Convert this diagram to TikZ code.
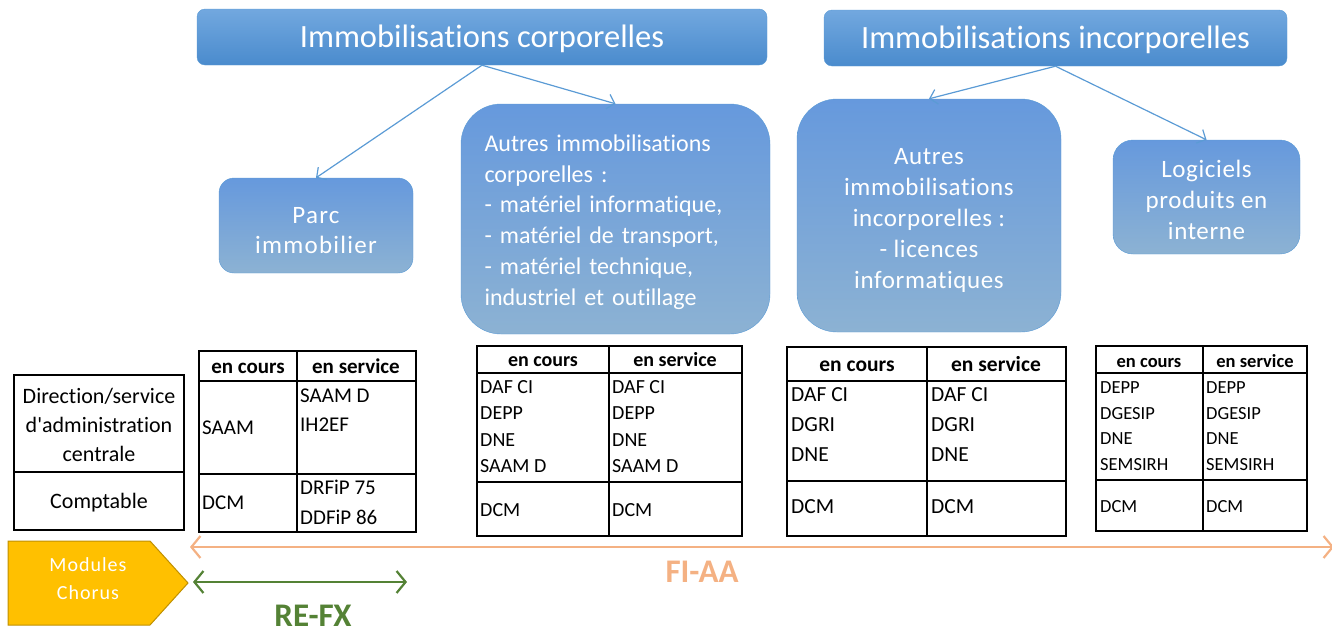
\documentclass[tikz,border=0pt]{standalone}
\usepackage{fontspec}
\setmainfont{Carlito}[Ligatures=NoCommon]
\usetikzlibrary{arrows.meta}

\definecolor{boxline}{HTML}{5B9BD5}
\definecolor{titletop}{HTML}{72A8DF}
\definecolor{titlebot}{HTML}{4A8BCD}
\definecolor{boxtop}{HTML}{6699DD}
\definecolor{boxbot}{HTML}{8CB2D3}
\definecolor{chorusfill}{HTML}{FFC000}
\definecolor{chorusline}{HTML}{C09000}
\definecolor{fiaacol}{HTML}{F4B183}
\definecolor{refxcol}{HTML}{548235}

\begin{document}
\begin{tikzpicture}[x=1pt,y=-1pt,
  titre/.style={draw=boxline, rounded corners=8pt, top color=titletop,
    bottom color=titlebot, text=white, inner sep=0pt, text height=21pt,
    text depth=0pt, font=\fontsize{32.5}{36}\selectfont},
  bloc/.style={draw=boxline, rounded corners=#1, top color=boxtop,
    bottom color=boxbot, inner sep=0pt},
  bloctxt/.style={text=white, inner sep=0pt, align=center,
    font=\fontsize{25}{31}\selectfont\addfontfeature{LetterSpace=2.5}},
  lien/.style={boxline, line width=1.2pt, -{Straight Barb[length=7pt,width=15pt]}},
  grille/.style={line width=1.6pt},
  cell/.style={inner sep=0pt, anchor=west, text height=13.5pt, text depth=0pt},
  tete/.style={inner sep=0pt, text height=13.5pt, text depth=0pt,
    execute at begin node=\bfseries}]

  \useasboundingbox (0,0) rectangle (1332,635);

  %% Boxes of the tree
  \node[titre, minimum width=570pt, minimum height=56pt] (corp) at (482,37)
    {Immobilisations corporelles};
  \node[titre, minimum width=463pt, minimum height=56pt] (incorp) at (1055.5,38)
    {Immobilisations incorporelles};
  \node[bloc=15pt, minimum width=194pt, minimum height=95pt] (parc) at (316,225.5) {};
  \node[bloc=40pt, minimum width=309pt, minimum height=230pt] (autcorp) at (615.5,219) {};
  \node[bloc=40pt, minimum width=264pt, minimum height=233pt] (autincorp) at (929,215.5) {};
  \node[bloc=20pt, minimum width=187pt, minimum height=114pt] (logi) at (1206.5,197) {};

  %% Texts of the boxes
  \node[bloctxt, font=\fontsize{25}{30}\selectfont\addfontfeature{LetterSpace=5}]
    (parc-t) at (316,231) {Parc\\immobilier};
  \node[bloctxt, align=left, text width=262pt, font=\fontsize{24}{30.8}\selectfont]
    (autcorp-t) at (615.5,222)
    {Autres immobilisations\\corporelles :\\- matériel informatique,\\
     - matériel de transport,\\- matériel technique,\\industriel et outillage};
  \node[bloctxt] (autincorp-t) at (929,220.5)
    {Autres\\immobilisations\\incorporelles :\\- licences\\informatiques};
  \node[bloctxt] (logi-t) at (1206.5,199.5) {Logiciels\\produits en\\interne};

  %% Arrows of the tree
  \draw[lien] (corp.south) -- (parc.north);
  \draw[lien] (corp.south) -- (autcorp.north);
  \draw[lien] (incorp.south) -- (autincorp.north);
  \draw[lien] (incorp.south) -- (logi.north);

  %% Row labels
  \draw[grille] (14,375) rectangle (184,530);
  \draw[grille] (14,472) -- (184,472);
  \begin{scope}[font=\fontsize{22}{29}\selectfont]
    \node[align=center, inner sep=0pt] (direction) at (99,425)
      {Direction/service\\d\textquotesingle administration\\centrale};
    \node[inner sep=0pt, text height=13.5pt, text depth=0pt] (comptable) at (99,502) {Comptable};
  \end{scope}

  %% Table of the parc immobilier
  \draw[grille] (199,351) rectangle (416,532);
  \draw[grille] (199,381) -- (416,381);
  \draw[grille] (199,474) -- (416,474);
  \draw[grille] (297,351) -- (297,532);
  \begin{scope}[font=\fontsize{21}{29}\selectfont]
    \node[tete] (ta-c) at (248,367) {en cours};
    \node[tete] (ta-s) at (356,367) {en service};
    \node[cell] (ta-1) at (202,428) {SAAM};
    \node[cell] (ta-2) at (300,396) {SAAM D};
    \node[cell] (ta-3) at (300,425) {IH2EF};
    \node[cell] (ta-4) at (202,503) {DCM};
    \node[cell] (ta-5) at (300,488) {DRFiP 75};
    \node[cell] (ta-6) at (300,518) {DDFiP 86};
  \end{scope}

  %% Table of the autres immobilisations corporelles
  \draw[grille] (477,346) rectangle (742,536);
  \draw[grille] (477,373) -- (742,373);
  \draw[grille] (477,482) -- (742,482);
  \draw[grille] (609,346) -- (609,536);
  \begin{scope}[font=\fontsize{20}{26}\selectfont]
    \node[tete] (tb-c) at (543,360) {en cours};
    \node[tete] (tb-s) at (675,360) {en service};
    \node[cell] (tb-1) at (480,387) {DAF CI};
    \node[cell] (tb-2) at (480,413) {DEPP};
    \node[cell] (tb-3) at (480,440) {DNE};
    \node[cell] (tb-4) at (480,466) {SAAM D};
    \node[cell] (tb-5) at (480,510) {DCM};
    \node[cell] (tb-6) at (612,387) {DAF CI};
    \node[cell] (tb-7) at (612,413) {DEPP};
    \node[cell] (tb-8) at (612,440) {DNE};
    \node[cell] (tb-9) at (612,466) {SAAM D};
    \node[cell] (tb-10) at (612,510) {DCM};
  \end{scope}

  %% Table of the autres immobilisations incorporelles
  \draw[grille] (787,347) rectangle (1066,536);
  \draw[grille] (787,381) -- (1066,381);
  \draw[grille] (787,481) -- (1066,481);
  \draw[grille] (927,347) -- (927,536);
  \begin{scope}[font=\fontsize{21.5}{29}\selectfont]
    \node[tete] (tc-c) at (857,365) {en cours};
    \node[tete] (tc-s) at (996,365) {en service};
    \node[cell] (tc-1) at (791,395) {DAF CI};
    \node[cell] (tc-2) at (791,425) {DGRI};
    \node[cell] (tc-3) at (791,455) {DNE};
    \node[cell] (tc-4) at (791,507) {DCM};
    \node[cell] (tc-5) at (931,395) {DAF CI};
    \node[cell] (tc-6) at (931,425) {DGRI};
    \node[cell] (tc-7) at (931,455) {DNE};
    \node[cell] (tc-8) at (931,507) {DCM};
  \end{scope}

  %% Table of the logiciels
  \draw[grille] (1096,346) rectangle (1307,531);
  \draw[grille] (1096,373) -- (1307,373);
  \draw[grille] (1096,480) -- (1307,480);
  \draw[grille] (1203,346) -- (1203,531);
  \begin{scope}[font=\fontsize{18.5}{25}\selectfont]
    \node[tete] (td-c) at (1149,361) {en cours};
    \node[tete] (td-s) at (1255,361) {en service};
    \node[cell] (td-1) at (1100,387) {DEPP};
    \node[cell] (td-2) at (1100,413) {DGESIP};
    \node[cell] (td-3) at (1100,438) {DNE};
    \node[cell] (td-4) at (1100,464) {SEMSIRH};
    \node[cell] (td-5) at (1100,506) {DCM};
    \node[cell] (td-6) at (1206,387) {DEPP};
    \node[cell] (td-7) at (1206,413) {DGESIP};
    \node[cell] (td-8) at (1206,438) {DNE};
    \node[cell] (td-9) at (1206,464) {SEMSIRH};
    \node[cell] (td-10) at (1206,506) {DCM};
  \end{scope}

  %% Chorus modules
  \draw[fill=chorusfill, draw=chorusline, line width=1pt]
    (8,541) -- (150,541) -- (188,583) -- (150,625) -- (8,625) -- cycle;
  \node[text=white, align=center, inner sep=0pt,
    font=\fontsize{20}{28}\selectfont\addfontfeature{LetterSpace=5}] (chorus) at (88,579)
    {Modules\\Chorus};

  \coordinate (fi-a) at (190,547);
  \coordinate (fi-b) at (1334,547);
  \coordinate (re-a) at (193,582);
  \coordinate (re-b) at (407,582);
  \draw[fiaacol, line width=2.2pt,
    {Straight Barb[length=9pt,width=22pt]}-{Straight Barb[length=9pt,width=22pt]}]
    (fi-a) -- (fi-b);
  \draw[refxcol, line width=2.2pt,
    {Straight Barb[length=9pt,width=22pt]}-{Straight Barb[length=9pt,width=22pt]}]
    (re-a) -- (re-b);
  \node[text=fiaacol, font=\fontsize{33}{36}\selectfont\bfseries, text height=21pt,
    text depth=0pt, inner sep=0pt] (fiaa) at (702,572) {FI-AA};
  \node[text=refxcol, font=\fontsize{33}{36}\selectfont\bfseries, text height=21pt,
    text depth=0pt, inner sep=0pt] (refx) at (313,616) {RE-FX};

\end{tikzpicture}
\end{document}
